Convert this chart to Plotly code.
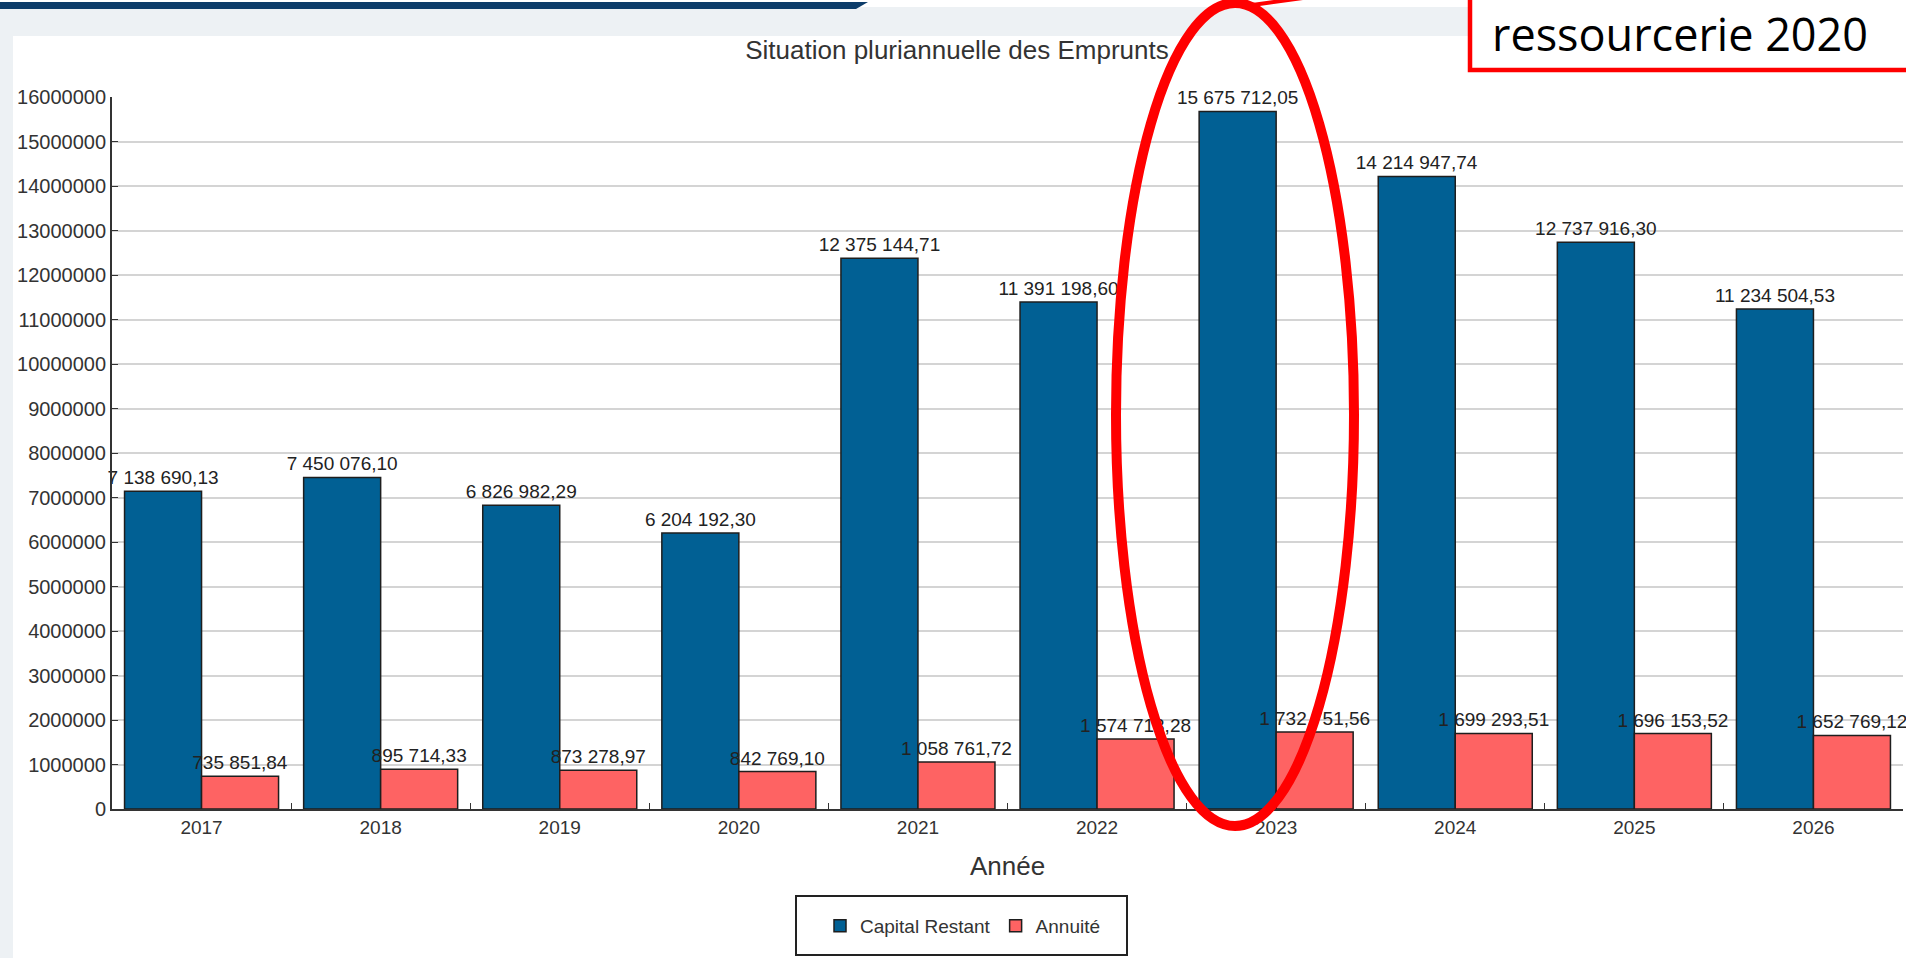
import plotly.graph_objects as go

# ---------------- data ----------------
annees = ["2017", "2018", "2019", "2020", "2021", "2022", "2023", "2024", "2025", "2026"]
capital_restant = [7138690.13, 7450076.10, 6826982.29, 6204192.30, 12375144.71,
                   11391198.60, 15675712.05, 14214947.74, 12737916.30, 11234504.53]
annuite = [735851.84, 895714.33, 873278.97, 842769.10, 1058761.72,
           1574713.28, 1732751.56, 1699293.51, 1696153.52, 1652769.12]
y_ticks = list(range(0, 16000001, 1000000))

titre = "Situation pluriannuelle des Emprunts"
titre_x = "Année"
note = "ressourcerie 2020"


def fr(v):
    return f"{v:,.2f}".replace(",", " ").replace(".", ",")


# ---------------- geometry helpers (figure pixels -> paper) ----------------
W, H = 1906, 958
L, R, T, B = 112, 1903, 97, 809


def px(x):
    return (x - L) / (R - L)


def py(y):
    return (B - y) / (B - T)


FONT = "Liberation Sans, Arial, sans-serif"
BLUE = "#016094"
RED = "#fe6363"
EDGE = "#1e1e1e"

fig = go.Figure()
fig.add_trace(go.Bar(
    name="Capital Restant", x=annees, y=capital_restant,
    marker=dict(color=BLUE, line=dict(color=EDGE, width=1.5)),
    text=[fr(v) for v in capital_restant], textposition="outside",
    textfont=dict(family=FONT, size=19, color="#222222"),
    cliponaxis=False, constraintext="none",
))
fig.add_trace(go.Bar(
    name="Annuité", x=annees, y=annuite,
    marker=dict(color=RED, line=dict(color=EDGE, width=1.5)),
    text=[fr(v) for v in annuite], textposition="outside",
    textfont=dict(family=FONT, size=19, color="#222222"),
    cliponaxis=False, constraintext="none",
))

GRAY_BG = "#edf1f4"
shapes = [
    # slide background bands
    dict(type="rect", xref="paper", yref="paper", x0=px(-5), x1=px(W + 5), y0=py(36), y1=py(7),
         fillcolor=GRAY_BG, line=dict(width=0), layer="below"),
    dict(type="rect", xref="paper", yref="paper", x0=px(-5), x1=px(13), y0=py(H + 5), y1=py(36),
         fillcolor=GRAY_BG, line=dict(width=0), layer="below"),
    dict(type="path", xref="paper", yref="paper",
         path=f"M {px(0)},{py(2)} L {px(868)},{py(2)} L {px(856)},{py(9)} L {px(0)},{py(9)} Z",
         fillcolor="#0c3c69", line=dict(width=0), layer="below"),
    # legend frame
    dict(type="rect", xref="paper", yref="paper", x0=px(796), x1=px(1127), y0=py(955), y1=py(896),
         fillcolor="rgba(0,0,0,0)", line=dict(color="#222222", width=2), layer="above"),
    # callout box
    dict(type="rect", xref="paper", yref="paper", x0=px(1470), x1=px(W + 20), y0=py(70), y1=py(-20),
         fillcolor="white", line=dict(color="#ff0000", width=4.5), layer="above"),
    # red ellipse
    dict(type="circle", xref="paper", yref="paper", x0=px(1116), x1=px(1354), y0=py(826), y1=py(3),
         line=dict(color="#ff0000", width=10), fillcolor="rgba(0,0,0,0)", layer="above"),
    dict(type="line", xref="paper", yref="paper", x0=px(1245), y0=py(6), x1=px(1310), y1=py(-3),
         line=dict(color="#ff0000", width=4), layer="above"),
]

annotations = [
    dict(text=note, xref="paper", yref="paper", x=px(1680), y=py(34), showarrow=False,
         xanchor="center", yanchor="middle",
         font=dict(family="Open Sans, DejaVu Sans, sans-serif", size=45, color="black")),
]

fig.update_layout(
    width=W, height=H,
    margin=dict(l=L, r=W - R, t=T, b=H - B, pad=0),
    paper_bgcolor="white", plot_bgcolor="rgba(0,0,0,0)",
    barmode="group", bargap=0.14, bargroupgap=0,
    title=dict(text=titre, x=957 / W, xanchor="center", y=1 - 50 / H, yanchor="middle",
               font=dict(family=FONT, size=26, color="#333333")),
    font=dict(family=FONT, color="#333333"),
    showlegend=True,
    legend=dict(orientation="h", x=px(963), xanchor="center", y=py(926), yanchor="middle",
                bgcolor="rgba(0,0,0,0)", borderwidth=0,
                font=dict(family=FONT, size=19, color="#333333"),
                traceorder="normal"),
    shapes=shapes,
    annotations=annotations,
)

fig.update_xaxes(
    type="category", showgrid=False, showline=True, linecolor="#333333", linewidth=2,
    ticks="inside", ticklen=6, tickcolor="#333333", tickson="boundaries",
    tickfont=dict(family=FONT, size=19, color="#333333"),
    title=dict(text=titre_x, font=dict(family=FONT, size=26, color="#333333"), standoff=20),
)
fig.update_yaxes(
    range=[0, 16000000], tickmode="array", tickvals=y_ticks, ticktext=[str(v) for v in y_ticks],
    showgrid=True, gridcolor="#d4d4d4", gridwidth=1.5,
    showline=True, linecolor="#333333", linewidth=2,
    ticks="inside", ticklen=6, tickcolor="#333333",
    tickfont=dict(family=FONT, size=20, color="#333333"),
    zeroline=False,
)

fig.write_html("out.html", config={"displayModeBar": False},
               post_script="document.body.style.margin='0';document.body.style.overflow='hidden';")
